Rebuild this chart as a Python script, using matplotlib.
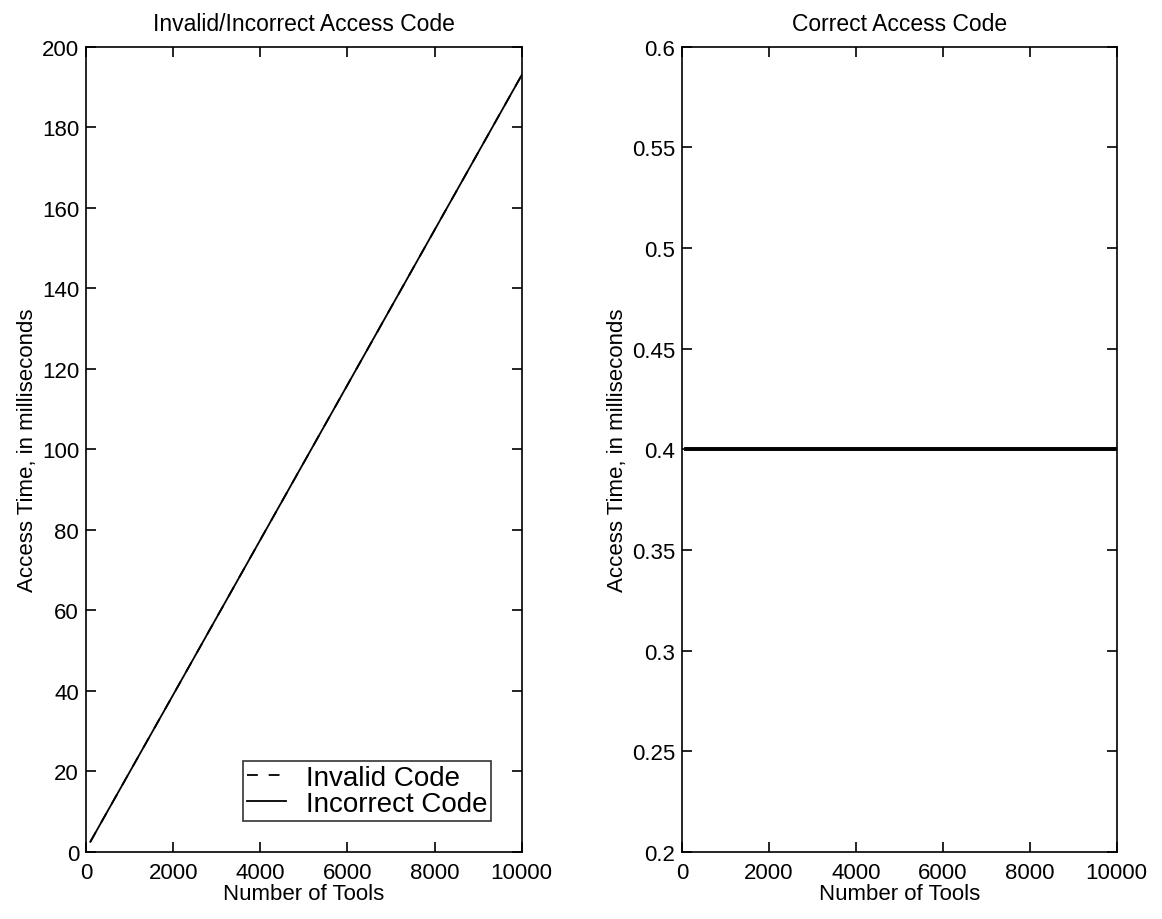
import matplotlib
matplotlib.use("Agg")
import matplotlib.pyplot as plt
from matplotlib.ticker import FormatStrFormatter

plt.rcParams['font.family'] = ['Liberation Sans', 'DejaVu Sans']

# access time measurements vs. number of tools
tools = [100, 500, 1000, 2000, 4000, 6000, 8000, 10000]
invalid_ms = [2.5, 10.2, 19.8, 39.0, 77.5, 116.0, 154.5, 193.0]
incorrect_ms = [2.5, 10.2, 19.8, 39.0, 77.5, 116.0, 154.5, 193.0]
correct_invalid_ms = [0.4, 0.4, 0.4, 0.4, 0.4, 0.4, 0.4, 0.4]
correct_ms = [0.4, 0.4, 0.4, 0.4, 0.4, 0.4, 0.4, 0.4]

fig = plt.figure(figsize=(11.62, 9.2), dpi=100)
ax1 = fig.add_axes([0.074, 0.073, 0.375, 0.875])
ax2 = fig.add_axes([0.587, 0.073, 0.374, 0.875])

def style(ax):
    ax.tick_params(direction='in', top=True, right=True, length=7, width=1.2,
                   labelsize=16)
    ax.tick_params(axis='x', pad=7)
    ax.tick_params(axis='y', pad=5)
    for s in ax.spines.values():
        s.set_linewidth(1.2)
    ax.set_xlabel('Number of Tools', fontsize=16, labelpad=0)
    ax.set_ylabel('Access Time, in milliseconds', fontsize=16, labelpad=3)

# left panel
ax1.plot(tools, invalid_ms, color='k', ls=(0, (6, 6)), lw=1.3, label='Invalid Code')
ax1.plot(tools, incorrect_ms, 'k-', lw=1.3, label='Incorrect Code')
ax1.set_xlim(0, 10000)
ax1.set_ylim(0, 200)
ax1.set_xticks(range(0, 10001, 2000))
ax1.set_yticks(range(0, 201, 20))
ax1.set_title('Invalid/Incorrect Access Code', fontsize=16.5, pad=12)
style(ax1)
leg = ax1.legend(loc='lower right', fontsize=20, frameon=True, fancybox=False,
                 edgecolor='black', borderpad=0.15, handlelength=1.4,
                 handletextpad=0.7, labelspacing=0.0, borderaxespad=1.1)
leg.get_frame().set_linewidth(1.2)

# right panel
ax2.plot(tools, correct_invalid_ms, 'k-', lw=2.6)
ax2.plot(tools, correct_ms, 'k-', lw=2.6)
ax2.set_xlim(0, 10000)
ax2.set_ylim(0.2, 0.6)
ax2.set_xticks(range(0, 10001, 2000))
ax2.set_yticks([0.2, 0.25, 0.3, 0.35, 0.4, 0.45, 0.5, 0.55, 0.6])
ax2.yaxis.set_major_formatter(FormatStrFormatter('%g'))
ax2.set_title('Correct Access Code', fontsize=16.5, pad=12)
style(ax2)

fig.savefig('out.png', dpi=100)
